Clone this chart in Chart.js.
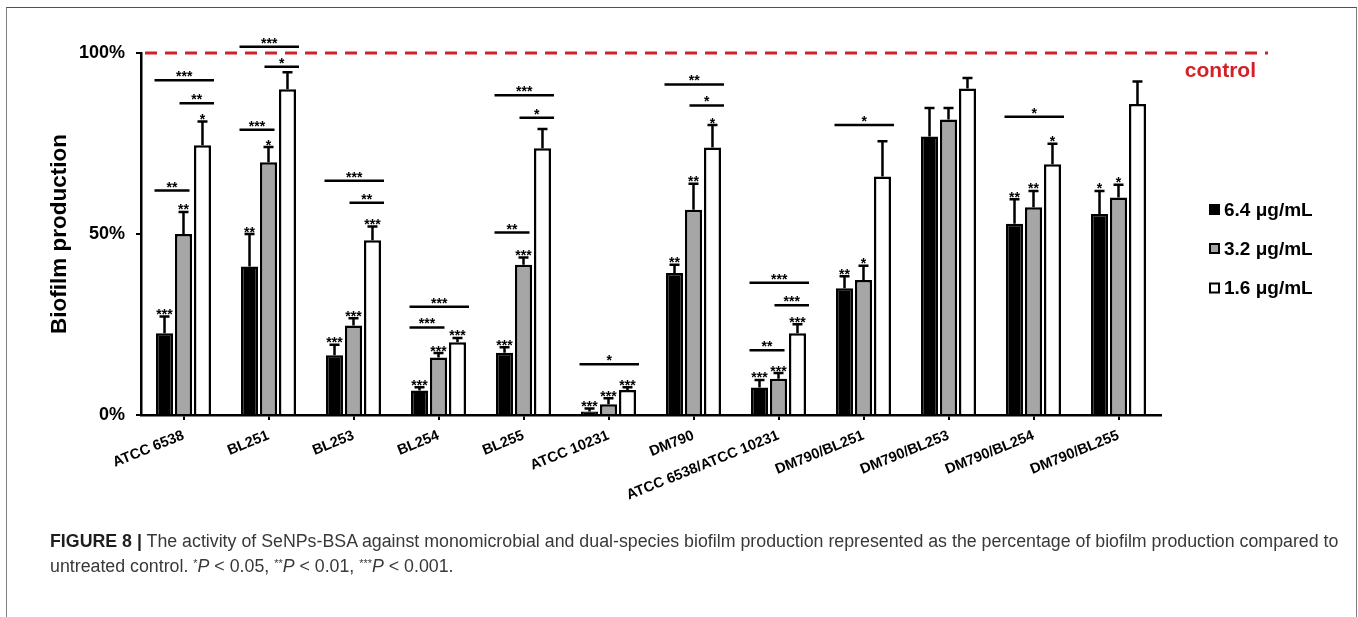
<!DOCTYPE html>
<html>
<head>
<meta charset="utf-8">
<script src="https://cdn.jsdelivr.net/npm/chart.js@4/dist/chart.umd.min.js"></script>
<style>
  html, body { margin: 0; padding: 0; background: #fff; }
  body { width: 1358px; height: 617px; position: relative; overflow: hidden; font-family: "Liberation Sans", Arial, sans-serif; }
  #frame { position: absolute; left: 6px; top: 7px; width: 1351px; height: 700px; border: 1.5px solid #808080; border-top-color: #505050; box-sizing: border-box; }
  #wrap { position: absolute; left: 0; top: 0; width: 1358px; height: 617px; }
  .cap { position: absolute; left: 50px; white-space: nowrap; font-size: 18px; color: #383838; transform-origin: 0 0; line-height: 22px; }
  .cap b { color: #1e1e1e; }
  .cap sup { font-size: 11px; vertical-align: 5px; line-height: 0; }
</style>
</head>
<body>
<div id="frame"></div>
<div id="wrap"><canvas id="c"></canvas></div>
<div class="cap" id="cap1" style="top:530px"><b>FIGURE 8 |</b> The activity of SeNPs-BSA against monomicrobial and dual-species biofilm production represented as the percentage of biofilm production compared to</div>
<div class="cap" id="cap2" style="top:555px">untreated control. <sup>*</sup><i>P</i> &lt; 0.05, <sup>**</sup><i>P</i> &lt; 0.01, <sup>***</sup><i>P</i> &lt; 0.001.</div>
<script>
// Strains and strain pairs tested
const categories = ['ATCC 6538', 'BL251', 'BL253', 'BL254', 'BL255', 'ATCC 10231', 'DM790',
  'ATCC 6538/ATCC 10231', 'DM790/BL251', 'DM790/BL253', 'DM790/BL254', 'DM790/BL255'];

// Concentration labels
const seriesLabels = ['6.4 μg/mL', '3.2 μg/mL', '1.6 μg/mL'];

// Mean biofilm production (% of untreated control)
const mean64 = [22.6, 41.0, 16.5, 6.8, 17.2, 1.0, 39.2, 7.6, 35.0, 76.9, 52.8, 55.5];
const mean32 = [50.0, 69.8, 24.7, 15.9, 41.5, 3.0, 56.7, 10.0, 37.3, 81.6, 57.4, 60.1];
const mean16 = [74.5, 90.0, 48.3, 20.1, 73.7, 6.9, 73.9, 22.6, 65.9, 90.2, 69.3, 85.9];

// Standard deviations (upper error bars)
const sd64 = [4.6, 9.0, 2.9, 0.9, 1.5, 0.8, 2.3, 2.1, 3.3, 7.9, 6.8, 6.4];
const sd32 = [6.1, 4.2, 2.0, 1.2, 2.0, 1.6, 7.2, 1.6, 3.9, 3.2, 4.5, 3.5];
const sd16 = [6.6, 4.7, 3.8, 1.2, 5.3, 0.8, 6.2, 2.5, 9.7, 2.9, 5.6, 6.2];

// Significance versus untreated control
const sig64 = ['***', '**', '***', '***', '***', '***', '**', '***', '**', '', '**', '*'];
const sig32 = ['**', '*', '***', '***', '***', '***', '**', '***', '*', '', '**', '*'];
const sig16 = ['*', '', '***', '***', '', '***', '*', '***', '', '', '*', ''];

// Pairwise comparisons: [category index, first series, second series, bracket level (%), label]
const comparisons = [
  [0, 0, 2, 92.5, '***'], [0, 1, 2, 86.1, '**'], [0, 0, 1, 62.0, '**'],
  [1, 0, 2, 101.7, '***'], [1, 1, 2, 96.2, '*'], [1, 0, 1, 78.8, '***'],
  [2, 0, 2, 64.7, '***'], [2, 1, 2, 58.6, '**'],
  [3, 0, 2, 29.9, '***'], [3, 0, 1, 24.2, '***'],
  [4, 0, 2, 88.3, '***'], [4, 1, 2, 82.1, '*'], [4, 0, 1, 50.4, '**'],
  [5, 0, 2, 14.0, '*'],
  [6, 0, 2, 91.3, '**'], [6, 1, 2, 85.5, '*'],
  [7, 0, 2, 36.5, '***'], [7, 1, 2, 30.3, '***'], [7, 0, 1, 17.9, '**'],
  [8, 0, 2, 80.1, '*'],
  [10, 0, 2, 82.4, '*']
];

// Untreated control level
const controlLevel = 100;

// Y axis ticks
const yTicks = [0, 50, 100];

const FONT = '"Liberation Sans", Arial, Helvetica, sans-serif';
const RED = '#d3212a';
Chart.defaults.font.family = FONT;
Chart.defaults.color = '#000';

const sdByDataset = [sd64, sd32, sd16];
const sigByDataset = [sig64, sig32, sig16];

const annotations = {
  id: 'annotations',
  afterDatasetsDraw(chart) {
    const { ctx, chartArea } = chart;
    const y = chart.scales.y;
    ctx.save();
    ctx.strokeStyle = '#000';
    ctx.fillStyle = '#000';
    ctx.lineCap = 'butt';

    // Error bars with significance marks
    chart.data.datasets.forEach((ds, di) => {
      const meta = chart.getDatasetMeta(di);
      meta.data.forEach((bar, i) => {
        const top = y.getPixelForValue(ds.data[i] + sdByDataset[di][i]);
        ctx.lineWidth = 2.5;
        ctx.beginPath();
        ctx.moveTo(bar.x, bar.y);
        ctx.lineTo(bar.x, top);
        ctx.moveTo(bar.x - 5, top);
        ctx.lineTo(bar.x + 5, top);
        ctx.stroke();
        const s = sigByDataset[di][i];
        if (s) {
          ctx.font = 'bold 14px ' + FONT;
          ctx.textAlign = 'center';
          ctx.textBaseline = 'alphabetic';
          ctx.fillText(s, bar.x, top + 2.5);
        }
      });
    });

    // Comparison brackets
    comparisons.forEach(([g, a, b, level, label]) => {
      const barA = chart.getDatasetMeta(a).data[g];
      const barB = chart.getDatasetMeta(b).data[g];
      const x0 = barA.x - (a === 0 ? 10 : 4);
      const x1 = barB.x + (b === 2 ? 11.5 : 6);
      const py = y.getPixelForValue(level);
      ctx.lineWidth = 2.5;
      ctx.beginPath();
      ctx.moveTo(x0, py);
      ctx.lineTo(x1, py);
      ctx.stroke();
      ctx.font = 'bold 14px ' + FONT;
      ctx.textAlign = 'center';
      ctx.textBaseline = 'alphabetic';
      ctx.fillText(label, (x0 + x1) / 2, py + 1);
    });

    // Control reference line
    const cy = y.getPixelForValue(controlLevel);
    ctx.strokeStyle = RED;
    ctx.lineWidth = 3;
    ctx.setLineDash([12, 8]);
    ctx.beginPath();
    ctx.moveTo(chartArea.left + 4, cy);
    ctx.lineTo(chartArea.right + 107, cy);
    ctx.stroke();
    ctx.setLineDash([]);
    ctx.fillStyle = RED;
    ctx.font = 'bold 21px ' + FONT;
    ctx.textAlign = 'right';
    ctx.textBaseline = 'alphabetic';
    ctx.fillText('control', chartArea.right + 95, cy + 24);

    // Legend
    const lx = chartArea.right + 48;
    const ly = [209.5, 248.5, 288];
    chart.data.datasets.forEach((ds, di) => {
      ctx.fillStyle = ds.backgroundColor;
      ctx.fillRect(lx, ly[di] - 5.5, 11, 11);
      ctx.strokeStyle = '#000';
      ctx.lineWidth = 2;
      ctx.strokeRect(lx + 1, ly[di] - 4.5, 9, 9);
      ctx.fillStyle = '#000';
      ctx.font = 'bold 19px ' + FONT;
      ctx.textAlign = 'left';
      ctx.textBaseline = 'middle';
      ctx.fillText(ds.label, lx + 15, ly[di] + 1);
    });
    ctx.restore();
  }
};

const fills = ['#000000', '#a6a6a6', '#ffffff'];
const means = [mean64, mean32, mean16];

new Chart(document.getElementById('c'), {
  type: 'bar',
  data: {
    labels: categories,
    datasets: seriesLabels.map((label, i) => ({
      label,
      data: means[i],
      backgroundColor: fills[i],
      borderColor: '#000',
      borderWidth: 2.5,
      borderSkipped: 'start',
      categoryPercentage: 0.67,
      barPercentage: 0.9
    }))
  },
  options: {
    responsive: true,
    maintainAspectRatio: false,
    devicePixelRatio: 1,
    animation: false,
    layout: { padding: { left: 37, top: 53, right: 197, bottom: 0 } },
    plugins: {
      legend: { display: false },
      tooltip: { enabled: false }
    },
    scales: {
      x: {
        grid: { display: true, drawOnChartArea: false, drawTicks: true, tickLength: 5, color: '#000', lineWidth: 2, offset: false },
        border: { display: true, color: '#000', width: 2.5 },
        ticks: {
          autoSkip: false, maxRotation: 22, minRotation: 22, padding: 7,
          font: { size: 14.5, weight: 'bold' }, color: '#000'
        },
        afterFit(scale) { scale.height = 202; }
      },
      y: {
        min: 0, max: 100,
        afterBuildTicks(scale) { scale.ticks = yTicks.map(v => ({ value: v })); },
        grid: { display: true, drawOnChartArea: false, drawTicks: true, tickLength: 5, color: '#000', lineWidth: 2 },
        border: { display: true, color: '#000', width: 2.5 },
        ticks: {
          padding: 11,
          font: { size: 18, weight: 'bold' }, color: '#000',
          callback: v => v + '%'
        },
        title: {
          display: true, text: 'Biofilm production',
          font: { size: 22.5, weight: 'bold' }, color: '#000',
          padding: { top: 9, bottom: 0 }
        },
        afterFit(scale) { scale.width = 104; }
      }
    }
  },
  plugins: [annotations]
});

// Fit caption lines to the figure width
function fitCaption() {
  const c1 = document.getElementById('cap1');
  const c2 = document.getElementById('cap2');
  const k = 1288 / c1.scrollWidth;
  c1.style.transform = 'scaleX(' + k + ')';
  c2.style.transform = 'scaleX(' + k + ')';
}
if (document.fonts && document.fonts.ready) document.fonts.ready.then(fitCaption); else fitCaption();
</script>
</body>
</html>
